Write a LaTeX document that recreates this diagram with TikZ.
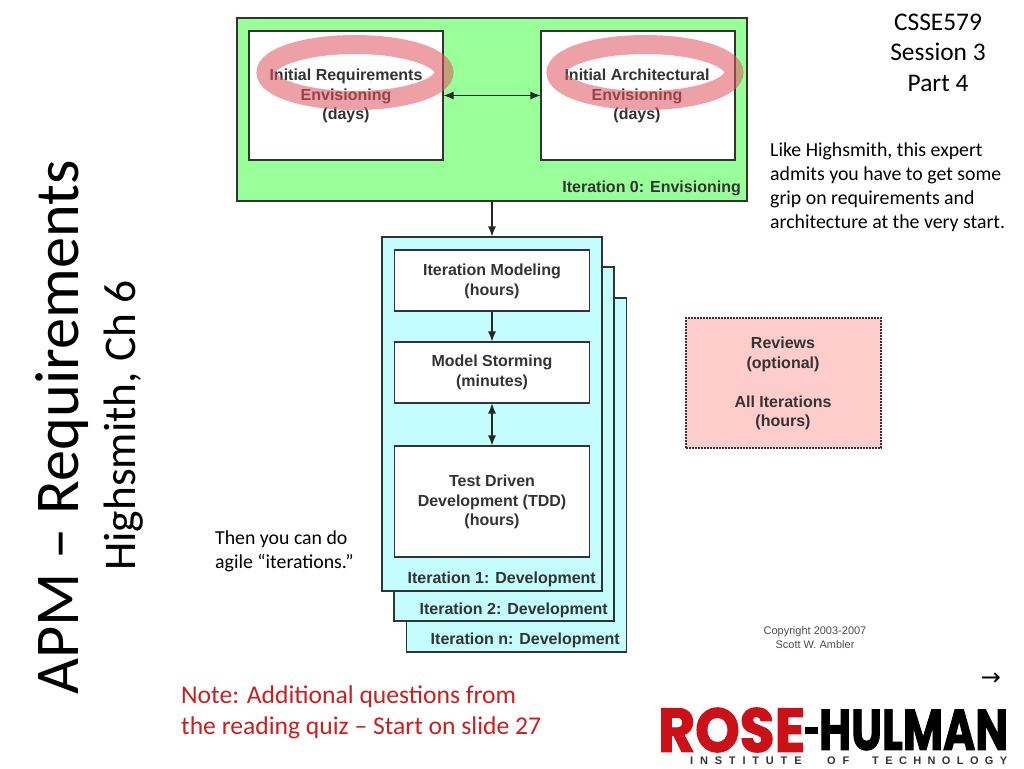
\documentclass[tikz,border=0pt]{standalone}
\usepackage{fontspec}
\usetikzlibrary{arrows.meta}
\setmainfont{Carlito}
\newfontfamily\diagfont{Liberation Sans}[BoldFont={Liberation Sans Bold}]
\newfontfamily\logofont{Poppins}[BoldFeatures={FakeBold=2}]
\newfontfamily\symfont{DejaVu Sans}
\definecolor{envgreen}{HTML}{99FF99}
\definecolor{itercyan}{HTML}{C4FDFD}
\definecolor{reviewpink}{HTML}{FFCCCC}
\definecolor{circlered}{HTML}{E0555F}
\definecolor{noterose}{HTML}{C8201E}
\definecolor{logored}{HTML}{CC1018}
\definecolor{inkgray}{HTML}{333333}
\tikzset{
  box/.style={draw=inkgray,line width=1.1pt,fill=white,inner sep=0pt},
  panel/.style={box,fill=itercyan,minimum width=220pt},
  boxtext/.style={font=\diagfont\bfseries\fontsize{16}{19.6}\selectfont,
    text=inkgray,align=center,inner sep=0pt},
  tag/.style={boxtext,anchor=east},
  slidetext/.style={font=\fontsize{19.8}{24}\selectfont,align=left,inner sep=0pt},
  logoword/.style={anchor=west,inner sep=0pt,text=inkgray,
    font=\diagfont\bfseries\fontsize{11}{11}\selectfont},
  flow/.style={draw=black!85,line width=1.1pt,-{Latex[length=10pt,width=8pt]}},
  both/.style={draw=black!85,line width=1.1pt,{Latex[length=10pt,width=8pt]}-{Latex[length=10pt,width=8pt]}},
  ring/.style={draw=circlered,line width=19pt,opacity=0.55}
}
\begin{document}
\begin{tikzpicture}[x=1pt,y=-1pt]
  \useasboundingbox (0,0) rectangle (1024,768);
  % iteration 0
  \node[box,fill=envgreen,minimum width=510pt,minimum height=183pt] (envision) at (492,109.5) {};
  \node[box,minimum width=194pt,minimum height=129pt] (reqbox) at (346,95.5) {};
  \node[box,minimum width=194pt,minimum height=129pt] (archbox) at (638,95.5) {};
  \node[boxtext] (reqtext) at (346,96) {Initial Requirements\\Envisioning\\(days)};
  \node[boxtext] (archtext) at (637,96) {Initial Architectural\\Envisioning\\(days)};
  \node[tag] (envtag) at (741,188) {Iteration 0: Envisioning};
  \draw[both] (reqbox) -- (archbox);
  \draw[ring] (355,72.5) ellipse (89 and 28);
  \draw[ring] (645,72.5) ellipse (89 and 28);
  % iterations, back to front
  \node[panel,minimum height=354pt] (itern) at (516.5,475) {};
  \node[panel,minimum height=354pt] (itertwo) at (504,444) {};
  \node[panel,minimum height=354pt] (iterone) at (492,414) {};
  \node[tag] (ntag) at (620,640) {Iteration n: Development};
  \node[tag] (twotag) at (608,610) {Iteration 2: Development};
  \node[tag] (onetag) at (596,579) {Iteration 1: Development};
  \node[box,minimum width=195pt,minimum height=61pt] (modeling) at (492,280.5) {};
  \node[box,minimum width=195pt,minimum height=61pt] (storming) at (492,372.5) {};
  \node[box,minimum width=195pt,minimum height=111pt] (tdd) at (492,501.5) {};
  \node[boxtext] (modeltext) at (492,281.5) {Iteration Modeling\\(hours)};
  \node[boxtext] (stormtext) at (492,372.5) {Model Storming\\(minutes)};
  \node[boxtext] (tddtext) at (492,502) {Test Driven\\Development (TDD)\\(hours)};
  \draw[flow] (envision) -- (iterone);
  \draw[flow] (modeling) -- (storming);
  \draw[both] (storming) -- (tdd);
  % reviews
  \node[box,fill=reviewpink,dash pattern=on 2pt off 1pt,line width=2pt,minimum width=195pt,minimum height=130pt] (reviews) at (783.5,383) {};
  \node[boxtext] (reviewtext) at (783,383.5) {Reviews\\(optional)\\[19.6pt]All Iterations\\(hours)};
  \node[font=\diagfont\fontsize{11}{14}\selectfont,text=black!70,align=center,inner sep=0pt] (copyright) at (815,638) {Copyright 2003-2007\\Scott W. Ambler};
  % slide text
  \node[rotate=90,anchor=base west,inner sep=0pt,font=\fontsize{62.3}{62.3}\selectfont] (title) at (78,695) {APM -- Requirements};
  \node[rotate=90,anchor=base west,inner sep=0pt,font=\fontsize{45.4}{45.4}\selectfont] (subtitle) at (135,571) {Highsmith, Ch 6};
  \node[font=\fontsize{25.4}{30.5}\selectfont,align=center,inner sep=0pt] (session) at (938,52.5) {CSSE579\\Session 3\\Part 4};
  \node[slidetext,anchor=north west] (comment) at (770,143) {Like Highsmith, this expert\\admits you have to get some\\grip on requirements and\\architecture at the very start.};
  \node[slidetext,anchor=north west] (agile) at (215,531) {Then you can do\\agile “iterations.”};
  \node[font=\fontsize{25.6}{31}\selectfont,text=noterose,align=left,inner sep=0pt,anchor=north west] (note) at (181,686) {Note: Additional questions from\\the reading quiz -- Start on slide 27};
  \node[font=\symfont\fontsize{24}{24}\selectfont,inner sep=0pt] (nextarrow) at (991,679) {→};
  % logo
  \node[anchor=west,inner sep=0pt,font=\logofont\bfseries,text=logored] (logorose) at (658,730) {\resizebox{147pt}{44pt}{ROSE}};
  \node[anchor=west,inner sep=0pt,fill=black,minimum width=13pt,minimum height=7pt] (logodash) at (805,730) {};
  \node[anchor=west,inner sep=0pt,font=\logofont\bfseries] (logohulman) at (819,730) {\resizebox{189pt}{40pt}{HULMAN}};
  \node[logoword] (logoinst) at (690,761) {\addfontfeature{LetterSpace=62}INSTITUTE};
  \node[logoword] (logoof) at (827,761) {\addfontfeature{LetterSpace=62}OF};
  \node[logoword] (logotech) at (872,761) {\addfontfeature{LetterSpace=58}TECHNOLOGY};
\end{tikzpicture}
\end{document}
